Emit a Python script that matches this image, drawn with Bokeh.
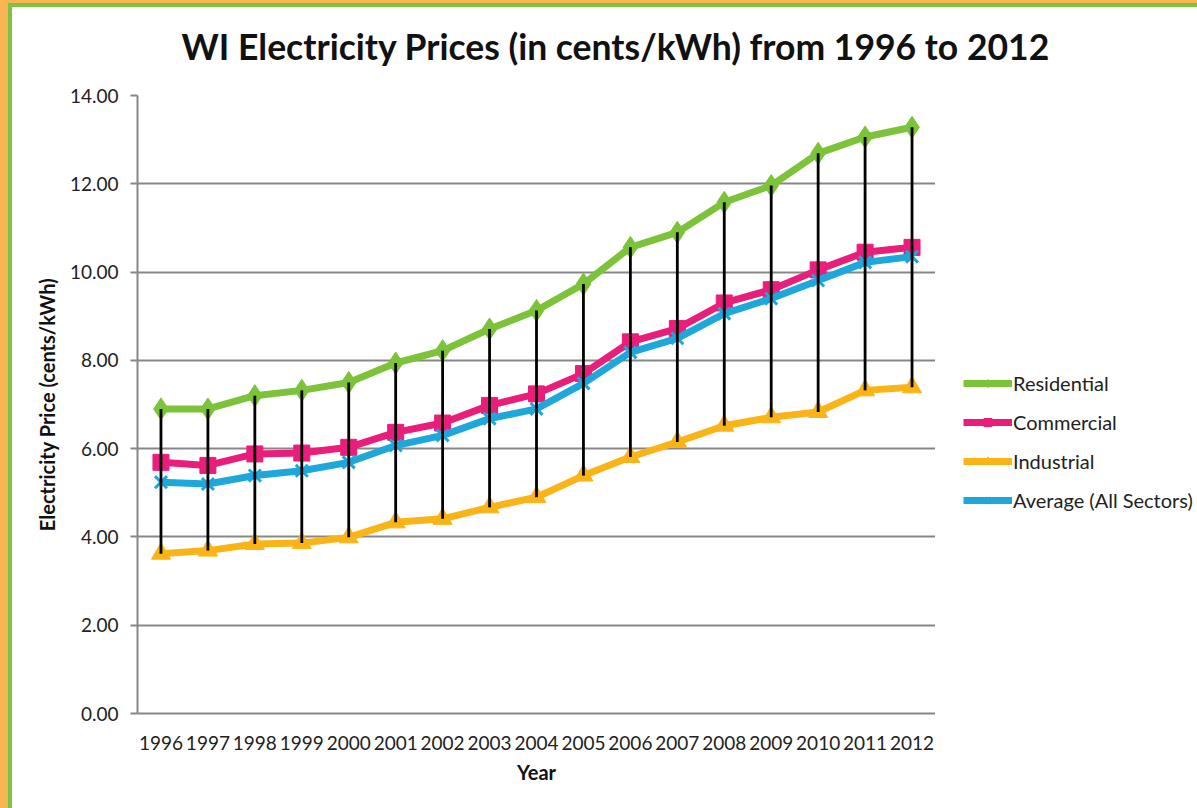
from bokeh.plotting import figure
from bokeh.models import (FactorRange, Range1d, FixedTicker, NumeralTickFormatter,
                          Legend, LegendItem, Title)
from bokeh.layouts import column, row
from bokeh.embed import file_html
from bokeh.resources import INLINE

# ---- data ----
years = ["1996", "1997", "1998", "1999", "2000", "2001", "2002", "2003", "2004",
         "2005", "2006", "2007", "2008", "2009", "2010", "2011", "2012"]
residential = [6.90, 6.90, 7.20, 7.32, 7.50, 7.94, 8.22, 8.71, 9.13,
               9.73, 10.56, 10.90, 11.58, 11.96, 12.69, 13.06, 13.28]
commercial = [5.69, 5.62, 5.88, 5.90, 6.03, 6.37, 6.58, 6.98, 7.24,
              7.70, 8.42, 8.72, 9.30, 9.60, 10.05, 10.45, 10.56]
industrial = [3.62, 3.69, 3.84, 3.86, 3.99, 4.33, 4.41, 4.67, 4.90,
              5.39, 5.81, 6.15, 6.52, 6.71, 6.83, 7.32, 7.39]
average = [5.24, 5.20, 5.39, 5.50, 5.69, 6.07, 6.30, 6.68, 6.90,
           7.48, 8.18, 8.50, 9.06, 9.40, 9.81, 10.22, 10.35]
y_ticks = [0, 2, 4, 6, 8, 10, 12, 14]
series_names = ["Residential", "Commercial", "Industrial", "Average (All Sectors)"]
title_text = "WI Electricity Prices (in cents/kWh) from 1996 to 2012"

FONT = "Lato"
GREEN = "#7CC33A"
MAGENTA = "#E91E7B"
GOLD = "#FBB417"
CYAN = "#1EA7DB"
GRID = "#878787"

# ---------- title strip ----------
tf = figure(width=1185, height=73, x_range=Range1d(0, 1), y_range=Range1d(0, 1),
            x_axis_type=None, y_axis_type=None,
            min_border_left=125, min_border_right=262,
            min_border_top=69, min_border_bottom=0,
            output_backend="svg", toolbar_location=None)
tf.title = None
tf.outline_line_color = None
tf.background_fill_color = "white"
tf.border_fill_color = "white"
tf.add_layout(Title(text=title_text, text_font=FONT, text_font_size="35.5px",
                    text_font_style="bold", text_color="#111111",
                    align="left", offset=44, standoff=18,
                    vertical_align="bottom"), "above")

# ---------- main plot ----------
p = figure(x_range=FactorRange(factors=years, range_padding=0),
           y_range=Range1d(0, 14),
           width=923, height=728,
           min_border_left=125, min_border_right=0,
           min_border_top=15, min_border_bottom=95,
           output_backend="svg", toolbar_location=None)
p.title = None
p.background_fill_color = "white"
p.border_fill_color = "white"
p.outline_line_color = None

styles = [
    (residential, GREEN, "diamond", 22, {}),
    (commercial, MAGENTA, "square", 16, {}),
    (industrial, GOLD, "triangle", 19, {}),
    (average, CYAN, "x", 17, {"line_width": 3}),
]

def draw(fig, xs, ys, color, marker, size, extra):
    ln = fig.line(xs, ys, line_width=7, color=color)
    sc = fig.scatter(xs, ys, marker=marker, size=size, color=color, **extra)
    return ln, sc

for ys, color, marker, size, extra in styles:
    draw(p, years, ys, color, marker, size, extra)

# high-low lines
p.segment(x0=years, y0=residential, x1=years, y1=industrial,
          line_color="black", line_width=2.8)

p.yaxis.ticker = FixedTicker(ticks=y_ticks)
p.yaxis.formatter = NumeralTickFormatter(format="0.00")
for ax in (p.xaxis[0], p.yaxis[0]):
    ax.axis_line_color = GRID
    ax.axis_line_width = 2
    ax.major_tick_line_color = GRID
    ax.major_tick_line_width = 2
    ax.minor_tick_line_color = None
    ax.major_label_text_font = FONT
    ax.major_label_text_font_size = "19px"
    ax.major_label_text_color = "#222222"
    ax.axis_label_text_font = FONT
    ax.axis_label_text_font_style = "bold"
    ax.axis_label_text_font_size = "20px"
    ax.axis_label_text_color = "#111111"
p.yaxis.major_tick_out = 7
p.yaxis.major_tick_in = 0
p.yaxis.major_label_standoff = 12
p.yaxis.axis_label = "Electricity Price (cents/kWh)"
p.yaxis.axis_label_standoff = 8
p.xaxis.major_tick_out = 0
p.xaxis.major_tick_in = 0
p.xaxis.major_label_standoff = 22
p.xaxis.axis_label = "Year"
p.xaxis.axis_label_standoff = 7

p.xgrid.visible = False
p.ygrid.grid_line_color = GRID
p.ygrid.grid_line_width = 2

# ---------- legend panel ----------
# same series drawn out of view (y range above all values) so the legend shows their glyphs
lf = figure(width=262, height=728, x_range=FactorRange(factors=years),
            y_range=Range1d(100, 101),
            x_axis_type=None, y_axis_type=None, min_border=0,
            output_backend="svg", toolbar_location=None)
lf.title = None
lf.outline_line_color = None
lf.grid.visible = False
lf.background_fill_color = "white"
lf.border_fill_color = "white"

items = []
for name, (ys, color, marker, size, extra) in zip(series_names, styles):
    ln, sc = draw(lf, years, ys, color, marker, size, extra)
    items.append(LegendItem(label=name, renderers=[ln, sc]))

legend = Legend(items=items, location=(28, 201), glyph_width=49, glyph_height=20,
                label_height=20, spacing=15, padding=0, margin=0, label_standoff=1,
                border_line_color=None, background_fill_alpha=0,
                label_text_font=FONT, label_text_font_size="20px",
                label_text_color="#222222", label_text_baseline="middle")
lf.add_layout(legend)

chart = column(tf, row(p, lf, styles={"background-color": "white"}),
               margin=(4, 0, 0, 4), styles={"background-color": "white"})
inner = column(chart, margin=(3, 0, 0, 8), styles={"background-color": "#7DC242"})
outer = column(inner, styles={"background-color": "#F8B552"})

open("out.html", "w").write(file_html(outer, INLINE))
